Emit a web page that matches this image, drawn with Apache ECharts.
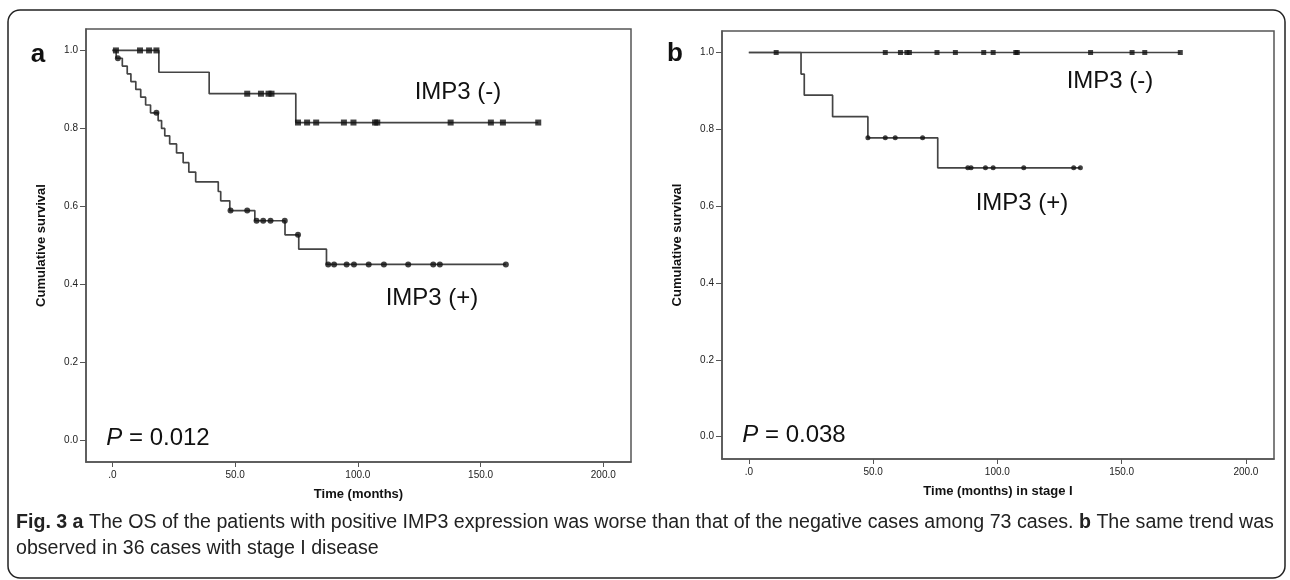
<!DOCTYPE html>
<html>
<head>
<meta charset="utf-8">
<script src="https://cdn.jsdelivr.net/npm/echarts@6/dist/echarts.min.js"></script>
<style>
html,body{margin:0;padding:0;background:#fff;}
#chart{width:1290px;height:580px;}
</style>
</head>
<body>
<div id="chart"></div>
<script>
// ---------- tick labels ----------
const xTicks = [0, 50, 100, 150, 200];
const yTicks = [0, 0.2, 0.4, 0.6, 0.8, 1.0];

// ---------- Panel a : all 73 cases ----------
// IMP3 (-) step curve (time of drop, survival after drop)
const aNegTime = [0, 18.9, 39.4, 74.7, 173.5];
const aNegSurv = [1.0, 0.944, 0.889, 0.815, 0.815];
// IMP3 (-) censored marks
const aNegCensTime = [1.4, 11.2, 14.9, 17.9, 54.9, 60.5, 63.6, 64.8, 75.6, 79.3, 83.0, 94.3, 98.2, 107.0, 107.9, 137.8, 154.2, 159.1, 173.5];
const aNegCensSurv = [1.0, 1.0, 1.0, 1.0, 0.889, 0.889, 0.889, 0.889, 0.815, 0.815, 0.815, 0.815, 0.815, 0.815, 0.815, 0.815, 0.815, 0.815, 0.815];
// IMP3 (+) step curve
const aPosTime = [0, 1.5, 4.0, 6.0, 7.5, 9.5, 11.5, 13.5, 15.5, 18.6, 20.0, 21.3, 23.3, 26.1, 28.8, 31.1, 33.9, 43.1, 44.1, 47.8, 58.0, 70.3, 75.9, 87.2, 160.3];
const aPosSurv = [1.0, 0.980, 0.960, 0.940, 0.920, 0.900, 0.880, 0.860, 0.840, 0.820, 0.800, 0.781, 0.760, 0.737, 0.712, 0.688, 0.663, 0.638, 0.614, 0.589, 0.563, 0.527, 0.490, 0.451, 0.451];
// IMP3 (+) censored marks
const aPosCensTime = [2.2, 17.9, 48.1, 54.9, 58.7, 61.4, 64.4, 70.2, 75.6, 87.9, 90.3, 95.4, 98.4, 104.4, 110.6, 120.5, 130.7, 133.4, 160.3];
const aPosCensSurv = [0.980, 0.840, 0.589, 0.589, 0.563, 0.563, 0.563, 0.563, 0.527, 0.451, 0.451, 0.451, 0.451, 0.451, 0.451, 0.451, 0.451, 0.451, 0.451];

// ---------- Panel b : 36 stage I cases ----------
const bNegTime = [0, 173.6];
const bNegSurv = [1.0, 1.0];
const bNegCensTime = [11.0, 54.9, 61.0, 63.6, 64.6, 75.7, 83.1, 94.5, 98.3, 107.4, 108.0, 137.5, 154.2, 159.3, 173.6];
const bNegCensSurv = [1, 1, 1, 1, 1, 1, 1, 1, 1, 1, 1, 1, 1, 1, 1];
const bPosTime = [0, 21.0, 22.3, 33.7, 47.9, 76.0, 133.4];
const bPosSurv = [1.0, 0.944, 0.889, 0.833, 0.778, 0.700, 0.700];
const bPosCensTime = [47.9, 54.9, 58.9, 69.9, 88.1, 89.4, 95.2, 98.3, 110.6, 130.7, 133.4];
const bPosCensSurv = [0.778, 0.778, 0.778, 0.778, 0.700, 0.700, 0.700, 0.700, 0.700, 0.700, 0.700];

// ---------- texts ----------
const groupNeg = 'IMP3 (-)';
const groupPos = 'IMP3 (+)';
const pA = '0.012';
const pB = '0.038';
const yName = 'Cumulative survival';
const xNameA = 'Time (months)';
const xNameB = 'Time (months) in stage I';
const captionLine1 = '{b|Fig. 3} {b|a} The OS of the patients with positive IMP3 expression was worse than that of the negative cases among 73 cases. {b|b} The same trend was';
const captionLine2 = 'observed in 36 cases with stage I disease';

const zip = (t, s) => t.map((v, i) => [v, s[i]]);

const SANS = '"Liberation Sans", Arial, sans-serif';
const LINE = '#444';
const MARK = '#111';
const AXC = '#555';

function xAxisDef(gi, name) {
  return {
    type: 'value', gridIndex: gi, min: -10.8, max: 211.3,
    name: name, nameLocation: 'middle', nameGap: 26,
    nameTextStyle: {fontFamily: SANS, fontWeight: 'bold', fontSize: 13, color: '#111'},
    axisLine: {show: true, onZero: false, lineStyle: {color: AXC, width: 1.5}},
    axisTick: {show: true, inside: false, length: 5, customValues: xTicks, lineStyle: {color: AXC, width: 1}},
    axisLabel: {customValues: xTicks, margin: 8, fontFamily: SANS, fontSize: 10, color: '#222',
      formatter: v => (v === 0 ? '.0' : v.toFixed(1))},
    splitLine: {show: false}
  };
}
function yAxisDef(gi, mn, mx) {
  return {
    type: 'value', gridIndex: gi, min: mn, max: mx,
    name: yName, nameLocation: 'middle', nameGap: 38,
    nameTextStyle: {fontFamily: SANS, fontWeight: 'bold', fontSize: 13, color: '#111'},
    axisLine: {show: true, onZero: false, lineStyle: {color: AXC, width: 1.5}},
    axisTick: {show: true, inside: false, length: 6, customValues: yTicks, lineStyle: {color: AXC, width: 1}},
    axisLabel: {customValues: yTicks, margin: 8, fontFamily: SANS, fontSize: 10, color: '#222',
      formatter: v => v.toFixed(1)},
    splitLine: {show: false}
  };
}
function stepLine(gi, t, s) {
  return {type: 'line', xAxisIndex: gi, yAxisIndex: gi, step: 'end', data: zip(t, s),
    showSymbol: false, symbol: 'none', lineStyle: {color: LINE, width: 1.7}, silent: true, z: 2};
}
function marks(gi, t, s, shape, size) {
  return {type: 'scatter', xAxisIndex: gi, yAxisIndex: gi, data: zip(t, s),
    symbol: shape, symbolSize: size, itemStyle: {color: MARK}, silent: true, z: 3};
}
function txt(x, y, text, size, extra) {
  return Object.assign({type: 'text', x: x, y: y, silent: true,
    style: Object.assign({text: text, fontFamily: SANS, fontSize: size, fill: '#111', align: 'center', verticalAlign: 'middle'}, extra || {})});
}

const chart = echarts.init(document.getElementById('chart'), null, {renderer: 'canvas'});
chart.setOption({
  animation: false,
  backgroundColor: '#fff',
  grid: [
    {left: 86, top: 29, width: 545, height: 433, show: true, borderColor: AXC, borderWidth: 1.5, backgroundColor: 'transparent'},
    {left: 722, top: 31, width: 552, height: 428, show: true, borderColor: AXC, borderWidth: 1.5, backgroundColor: 'transparent'}
  ],
  xAxis: [xAxisDef(0, xNameA), xAxisDef(1, xNameB)],
  yAxis: [yAxisDef(0, -0.056, 1.055), yAxisDef(1, -0.058, 1.056)],
  series: [
    stepLine(0, aNegTime, aNegSurv),
    stepLine(0, aPosTime, aPosSurv),
    marks(0, aNegCensTime, aNegCensSurv, 'rect', 6),
    marks(0, aPosCensTime, aPosCensSurv, 'circle', 6),
    stepLine(1, bNegTime, bNegSurv),
    stepLine(1, bPosTime, bPosSurv),
    marks(1, bNegCensTime, bNegCensSurv, 'rect', 5),
    marks(1, bPosCensTime, bPosCensSurv, 'circle', 5)
  ],
  graphic: [
    {type: 'rect', silent: true, shape: {x: 8, y: 10, width: 1277, height: 568, r: 12},
      style: {fill: 'none', stroke: '#222', lineWidth: 1.5}},
    txt(38, 55, 'a', 26, {fontWeight: 'bold'}),
    txt(675, 54, 'b', 26, {fontWeight: 'bold'}),
    txt(458, 92, groupNeg, 24),
    txt(432, 298, groupPos, 24),
    txt(158, 438, '{i|P} = ' + pA, 24, {rich: {i: {fontStyle: 'italic', fontFamily: SANS, fontSize: 24, fill: '#111'}}}),
    txt(1110, 81, groupNeg, 24),
    txt(1022, 203, groupPos, 24),
    txt(794, 435, '{i|P} = ' + pB, 24, {rich: {i: {fontStyle: 'italic', fontFamily: SANS, fontSize: 24, fill: '#111'}}}),
    txt(16, 523, captionLine1, 19.6, {align: 'left', fill: '#222',
      rich: {b: {fontWeight: 'bold', fontFamily: SANS, fontSize: 19.6, fill: '#222'}}}),
    txt(16, 549, captionLine2, 19.6, {align: 'left', fill: '#222'})
  ]
});
</script>
</body>
</html>
